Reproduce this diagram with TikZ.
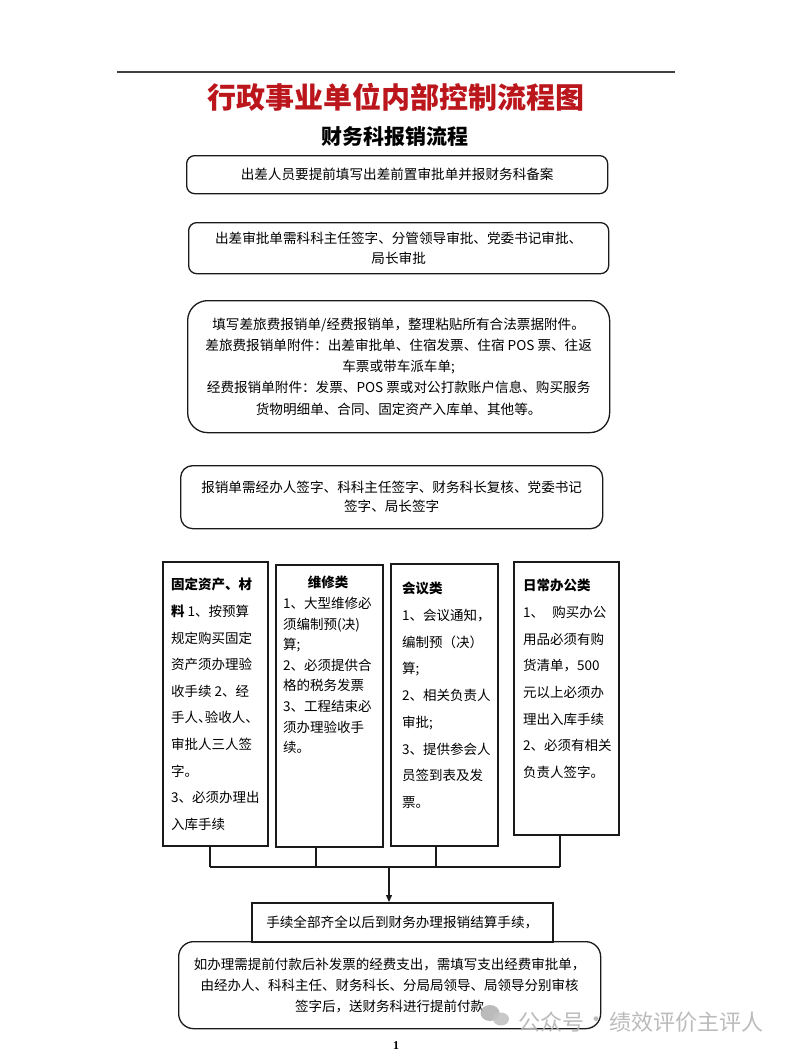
\documentclass[tikz,border=0pt]{standalone}
\usepackage{fontspec}
\setmainfont{Noto Sans CJK SC}
\newfontfamily\pagenumfont{Liberation Serif}
\usetikzlibrary{arrows.meta}
\definecolor{titlered}{HTML}{BC161D}
\definecolor{wmgray}{HTML}{B4B4B4}
\definecolor{boxline}{HTML}{1A1A1A}
\newcommand\narrowdun{\makebox[0.5em][l]{、}}
\tikzset{
  rbox/.style={draw=boxline, line width=1.3pt, rounded corners=8pt, inner sep=0pt, anchor=north west,
    font=\fontsize{13.6}{20.5}\selectfont, align=center},
  sbox/.style={draw=boxline, line width=1.5pt, inner sep=0pt, anchor=north west},
  coltxt/.style={inner sep=0pt, anchor=north west, align=left},
  conn/.style={draw=boxline, line width=1.3pt},
  arr/.style={conn, -{Triangle[length=7pt,width=6pt]}},
  titletxt/.style={font=\fontsize{29}{30}\selectfont\bfseries, inner sep=0pt},
  wmtxt/.style={font=\fontsize{22}{24}\selectfont, text=wmgray, inner sep=0pt},
}
\begin{document}
\begin{tikzpicture}[x=1pt,y=-1pt]
\useasboundingbox (0,0) rectangle (792,1054);
\fill[white] (0,0) rectangle (792,1054);

% top rule
\coordinate (ruleL) at (117,72);
\coordinate (ruleR) at (675,72);
\draw[line width=1.3pt, draw=black!75] (ruleL) -- (ruleR);

% title
\node[titletxt, text=titlered] (title) at (396,97) {行政事业单位内部控制流程图};
\node[font=\fontsize{21}{22}\selectfont\bfseries, inner sep=0pt] (subtitle) at (395,137) {财务科报销流程};

% flow boxes
\node[rbox, minimum width=421pt, minimum height=38pt] (b1) at (186,155)
  {出差人员要提前填写出差前置审批单并报财务科备案};
\node[rbox, minimum width=420pt, minimum height=51pt] (b2) at (188,222)
  {出差审批单需科科主任签字、分管领导审批、党委书记审批、\\局长审批};
\node[rbox, rounded corners=20pt, minimum width=422pt, minimum height=132pt,
  font=\fontsize{13.6}{21.2}\selectfont] (b3) at (187,300)
  {填写差旅费报销单/经费报销单，整理粘贴所有合法票据附件。\\
   差旅费报销单附件：出差审批单、住宿发票、住宿 POS 票、往返\\
   车票或带车派车单;\\
   经费报销单附件：发票、POS 票或对公打款账户信息、购买服务\\
   货物明细单、合同、固定资产入库单、其他等。};
\node[rbox, rounded corners=12pt, minimum width=422pt, minimum height=63pt, font=\fontsize{13.6}{19}\selectfont] (b4) at (180,465)
  {报销单需经办人签字、科科主任签字、财务科长复核、党委书记\\签字、局长签字};

% four category boxes
\node[sbox, minimum width=105pt, minimum height=284pt] (c1) at (162,561) {};
\node[sbox, minimum width=107pt, minimum height=282pt] (c2) at (275,564) {};
\node[sbox, minimum width=107pt, minimum height=282pt] (c3) at (390,563) {};
\node[sbox, minimum width=105pt, minimum height=273pt] (c4) at (513,561) {};

\node[coltxt, font=\fontsize{13.5}{26.6}\selectfont] (c1t) at (171,578)
  {{\bfseries 固定资产、材}\\
   {\bfseries 料}~1、按预算\\
   规定购买固定\\
   资产须办理验\\
   收手续 2、经\\
   手人\narrowdun 验收人\narrowdun\\
   审批人三人签\\
   字。\\
   3、必须办理出\\
   入库手续};

\node[inner sep=0pt, font=\fontsize{13.5}{14}\selectfont\bfseries] (c2h) at (328,582) {维修类};
\node[coltxt, font=\fontsize{13.5}{20.6}\selectfont] (c2t) at (283,597)
  {1、大型维修必\\
   须编制预(决)\\
   算;\\
   2、必须提供合\\
   格的税务发票\\
   3、工程结束必\\
   须办理验收手\\
   续。};

\node[coltxt, font=\fontsize{13.5}{26.7}\selectfont] (c3t) at (402,582)
  {{\bfseries 会议类}\\
   1、会议通知，\\
   编制预（决）\\
   算;\\
   2、相关负责人\\
   审批;\\
   3、提供参会人\\
   员签到表及发\\
   票。};

\node[coltxt, font=\fontsize{13.5}{26.7}\selectfont] (c4t) at (523,579)
  {{\bfseries 日常办公类}\\
   1、\hspace{0.6em}购买办公\\
   用品必须有购\\
   货清单，500\\
   元以上必须办\\
   理出入库手续\\
   2、必须有相关\\
   负责人签字。};

% bottom boxes
\node[rbox, rounded corners=15pt, minimum width=422pt, minimum height=87pt,
  font=\fontsize{13.5}{21}\selectfont] (b6) at (178,941)
  {如办理需提前付款后补发票的经费支出，需填写支出经费审批单，\\
   由经办人、科科主任、财务科长、分局局领导、局领导分别审核\\
   签字后，送财务科进行提前付款};
\node[sbox, minimum width=301pt, minimum height=39pt, font=\fontsize{13.6}{16}\selectfont] (b5) at (251,902)
  {手续全部齐全以后到财务办理报销结算手续，};

% connectors
\coordinate (j1) at (210,867);
\coordinate (j2) at (316,867);
\coordinate (j3) at (436,867);
\coordinate (j4) at (560,867);
\coordinate (jm) at (389,867);
\draw[conn] (c1.south -| j1) -- (j1);
\draw[conn] (c2.south -| j2) -- (j2);
\draw[conn] (c3.south -| j3) -- (j3);
\draw[conn] (c4.south -| j4) -- (j4);
\draw[conn] (j1) -- (j4);
\draw[arr] (jm) -- (jm |- b5.north);

% page number
\node[inner sep=0pt, font=\pagenumfont\bfseries\fontsize{12}{13}\selectfont] (pnum) at (396,1046) {1};

% watermark
\fill[wmgray, opacity=0.9] (490,1013) ellipse [x radius=9.5pt, y radius=8pt];
\fill[wmgray!80, opacity=0.9] (501,1019) ellipse [x radius=8pt, y radius=6.5pt];
\node[wmtxt, opacity=0.9] (wm1) at (551,1022) {公众号};
\node[wmtxt, opacity=0.9] (wmdot) at (596,1022) {·};
\node[wmtxt, opacity=0.9] (wm2) at (686,1022) {绩效评价主评人};
\end{tikzpicture}
\end{document}
